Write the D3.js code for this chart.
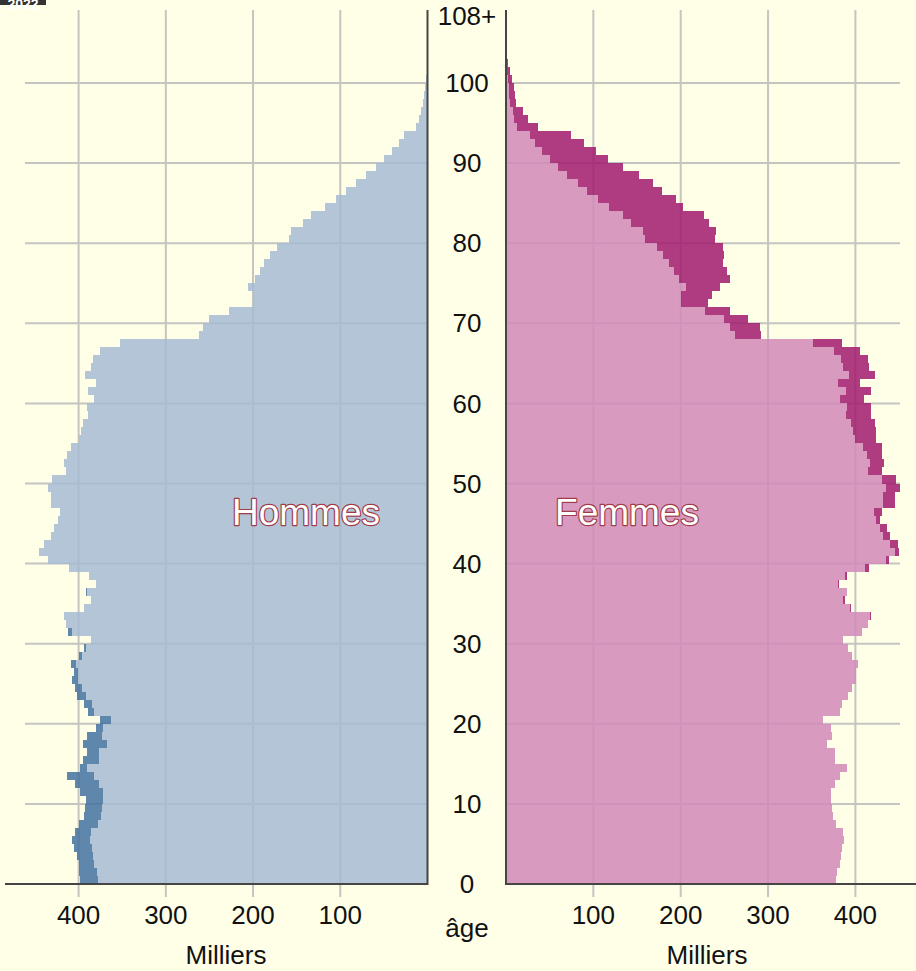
<!DOCTYPE html>
<html>
<head>
<meta charset="utf-8">
<script src="https://cdn.jsdelivr.net/npm/d3@7"></script>
<style>
    body { margin: 0; background: #FFFFE8; }
    svg { display: block; font-family: "Liberation Sans", Arial, sans-serif; }
</style>
</head>
<body>
<svg id="pyramide" width="916" height="971"></svg>
<script>
// effectifs par âge (milliers), âge 0 à 108+
const AGES = d3.range(0, 109);
const HOMMES = [
    398, 399, 400, 402, 405, 407, 404, 399, 394, 393,
    391, 398, 404, 413, 398, 395, 390, 395, 390, 380,
    375, 389, 394, 402, 404, 407, 405, 409, 400, 394,
    386, 412, 415, 417, 394, 386, 391, 380, 388, 411,
    435, 445, 440, 432, 428, 424, 421, 432, 432, 435,
    430, 414, 417, 413, 409, 399, 397, 395, 389, 390,
    382, 389, 380, 393, 386, 384, 375, 352, 262, 257,
    250, 228, 200, 200, 206, 198, 192, 187, 180, 173,
    159, 157, 143, 134, 118, 105, 93, 82, 70, 59,
    50, 41, 33, 27, 13, 9.4, 7.8, 4.8, 3.5, 3,
    2, 1, 0.5, 0.3, 0.2, 0.1, 0.1, 0.1, 0.1
];
const FEMMES = [
    378, 379, 382, 383, 385, 387, 386, 378, 374, 373,
    372, 372, 377, 382, 390, 377, 377, 367, 373, 372,
    363, 382, 385, 392, 396, 401, 401, 403, 396, 391,
    386, 408, 414, 418, 395, 388, 390, 381, 390, 415,
    438, 450, 449, 440, 436, 428, 431, 445, 445, 451,
    447, 431, 433, 431, 431, 424, 424, 422, 418, 418,
    410, 418, 405, 422, 415, 414, 405, 385, 292, 291,
    277, 257, 231, 236, 245, 257, 253, 248, 250, 248,
    239, 240, 232, 227, 203, 195, 179, 168, 152, 134,
    117, 103, 89, 74, 37, 25, 19, 12, 10.5, 9.5,
    7, 4.5, 2.5, 1.5, 1, 0.5, 0.3, 0.2, 0.2
];
const TICKS_X = [100, 200, 300, 400];
const TICKS_AGE = [10, 20, 30, 40, 50, 60, 70, 80, 90, 100];
const LABELS_AGE = ['0', '10', '20', '30', '40', '50', '60', '70', '80', '90', '100', '108+'];
const LABEL_AGE_AT = [0, 10, 20, 30, 40, 50, 60, 70, 80, 90, 100, 108.4];

const BG = '#FFFFE8';
const GRID = '#c4c4c0';
const AXIS = '#454545';

const svg = d3.select('#pyramide');
svg.append('rect').attr('width', 916).attr('height', 971).attr('fill', BG);

const y = d3.scaleLinear().domain([0, 109]).range([884, 884 - 109 * 8.01]);
const xL = d3.scaleLinear().domain([0, 400]).range([427.5, 78.6]);
const xR = d3.scaleLinear().domain([0, 400]).range([506, 855.4]);

const rows = AGES.map((a, i) => ({
    age: a,
    h: HOMMES[i],
    f: FEMMES[i],
    m: Math.min(HOMMES[i], FEMMES[i])
}));

// grille
const grid = svg.append('g').attr('stroke', GRID).attr('stroke-width', 2);
grid.selectAll('.hl').data(TICKS_AGE).enter().append('line')
    .attr('x1', 25).attr('x2', xL(0))
    .attr('y1', d => y(d)).attr('y2', d => y(d));
grid.selectAll('.hr').data(TICKS_AGE).enter().append('line')
    .attr('x1', xR(0)).attr('x2', 900)
    .attr('y1', d => y(d)).attr('y2', d => y(d));
grid.selectAll('.vl').data(TICKS_X).enter().append('line')
    .attr('x1', d => xL(d)).attr('x2', d => xL(d))
    .attr('y1', 10).attr('y2', 897);
grid.selectAll('.vr').data(TICKS_X).enter().append('line')
    .attr('x1', d => xR(d)).attr('x2', d => xR(d))
    .attr('y1', 10).attr('y2', 897);

// barres
const bars = svg.append('g').attr('opacity', 0.85).attr('shape-rendering', 'crispEdges');
const barH = d => y(d.age) - y(d.age + 1);

bars.selectAll('.hl').data(rows).enter().append('rect')
    .attr('x', d => xL(d.m)).attr('y', d => y(d.age + 1))
    .attr('width', d => xL(0) - xL(d.m)).attr('height', barH)
    .attr('fill', '#A6BCD3');
bars.selectAll('.hd').data(rows.filter(d => d.h > d.f)).enter().append('rect')
    .attr('x', d => xL(d.h)).attr('y', d => y(d.age + 1))
    .attr('width', d => xL(d.m) - xL(d.h)).attr('height', barH)
    .attr('fill', '#4471A1');
bars.selectAll('.fl').data(rows).enter().append('rect')
    .attr('x', xR(0)).attr('y', d => y(d.age + 1))
    .attr('width', d => xR(d.m) - xR(0)).attr('height', barH)
    .attr('fill', '#D28AB9');
bars.selectAll('.fd').data(rows.filter(d => d.f > d.h)).enter().append('rect')
    .attr('x', d => xR(d.m)).attr('y', d => y(d.age + 1))
    .attr('width', d => xR(d.f) - xR(d.m)).attr('height', barH)
    .attr('fill', '#A21A6E');

// axes
const axes = svg.append('g').attr('stroke', AXIS).attr('stroke-width', 2);
axes.append('line').attr('x1', xL(0)).attr('x2', xL(0)).attr('y1', 10).attr('y2', 885);
axes.append('line').attr('x1', xR(0)).attr('x2', xR(0)).attr('y1', 10).attr('y2', 885);
axes.append('line').attr('x1', 5).attr('x2', xL(0)).attr('y1', 884).attr('y2', 884);
axes.append('line').attr('x1', xR(0)).attr('x2', 916).attr('y1', 884).attr('y2', 884);

// graduations
const txt = svg.append('g').attr('font-size', '26px').attr('fill', '#111').attr('text-anchor', 'middle');
txt.selectAll('.tl').data(TICKS_X).enter().append('text')
    .attr('x', d => xL(d)).attr('y', 915).attr('dy', '0.35em').text(d => d);
txt.selectAll('.tr').data(TICKS_X).enter().append('text')
    .attr('x', d => xR(d)).attr('y', 915).attr('dy', '0.35em').text(d => d);
txt.selectAll('.ta').data(LABELS_AGE).enter().append('text')
    .attr('x', 467).attr('y', (d, i) => y(LABEL_AGE_AT[i])).attr('dy', '0.35em').text(d => d);
txt.append('text').attr('x', 467).attr('y', 928).attr('dy', '0.35em').text('âge');
txt.append('text').attr('x', 226).attr('y', 955).attr('dy', '0.35em').text('Milliers');
txt.append('text').attr('x', 707).attr('y', 955).attr('dy', '0.35em').text('Milliers');

// libellés
svg.selectAll('.sexe').data([['Hommes', 306], ['Femmes', 627]]).enter().append('text')
    .attr('x', d => d[1]).attr('y', 512).attr('dy', '0.35em')
    .attr('text-anchor', 'middle')
    .style('font-size', '37px')
    .attr('fill', '#fff').attr('stroke', '#a03c48').attr('stroke-width', 2.4)
    .attr('stroke-linejoin', 'round')
    .attr('paint-order', 'stroke')
    .text(d => d[0]);

// étiquette coupée en haut à gauche
svg.append('rect').attr('x', 0).attr('y', -20).attr('width', 46).attr('height', 25).attr('fill', '#333');
svg.append('text').attr('x', 23).attr('y', 9).attr('text-anchor', 'middle')
    .style('font-size', '14px').style('font-weight', 'bold').attr('fill', '#fff').text('2022');
</script>
</body>
</html>
